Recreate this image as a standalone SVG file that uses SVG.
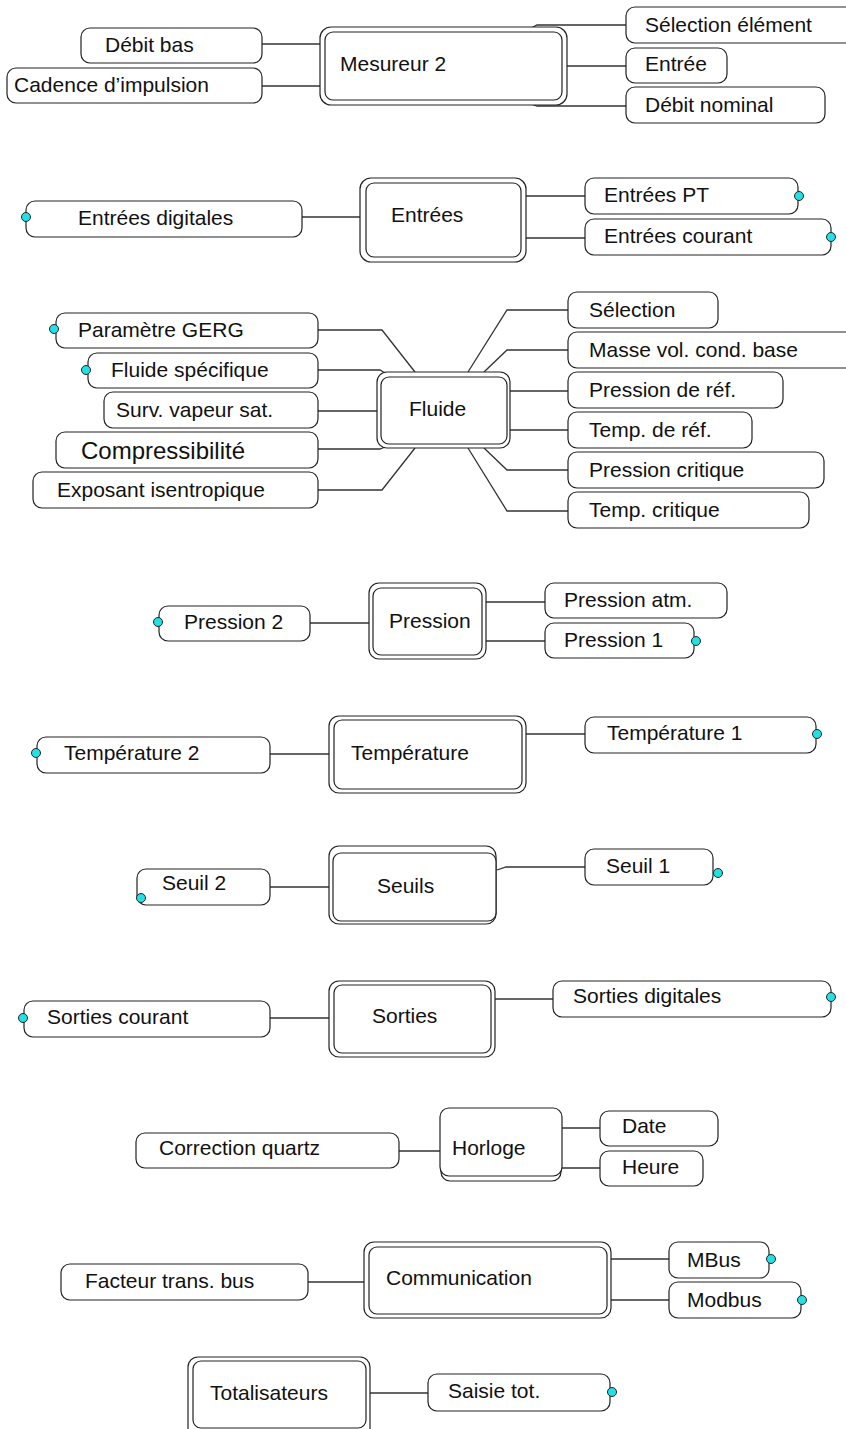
<svg xmlns="http://www.w3.org/2000/svg" width="846" height="1429" viewBox="0 0 846 1429">
  <style>
    .box { fill: #fff; stroke: #222; stroke-width: 1.2; }
    .hub { fill: #fff; stroke: #222; stroke-width: 1.2; }
    .c { fill: none; stroke: #333; stroke-width: 1.3; }
    .dot { fill: #22e0e6; stroke: #222; stroke-width: 1; }
    text { font-family: "Liberation Sans", Arial, sans-serif; font-size: 21px; fill: #111; }
    .big { font-size: 24px; }
  </style>
  <rect width="846" height="1429" fill="#fff"/>

  <!-- connectors -->
  <g id="connectors">
    <!-- Mesureur 2 -->
    <line class="c" x1="262" y1="44" x2="320" y2="44"/>
    <line class="c" x1="262" y1="86" x2="320" y2="86"/>
    <path class="c" d="M531,28 L537,25 L626,25"/>
    <line class="c" x1="567" y1="66" x2="626" y2="66"/>
    <path class="c" d="M531,104 L537,106 L626,106"/>
    <!-- Entrées -->
    <line class="c" x1="302" y1="217" x2="360" y2="217"/>
    <line class="c" x1="526" y1="196" x2="585" y2="196"/>
    <line class="c" x1="526" y1="238" x2="585" y2="238"/>
    <!-- Fluide -->
    <path class="c" d="M318,330 L382,330 L415,372"/>
    <path class="c" d="M318,370 L380,370 L385,373"/>
    <line class="c" x1="318" y1="411" x2="377" y2="411"/>
    <path class="c" d="M318,449 L380,449 L385,447"/>
    <path class="c" d="M318,490 L382,490 L415,448"/>
    <path class="c" d="M468,372 L507,310 L568,310"/>
    <path class="c" d="M484,372 L507,350 L568,350"/>
    <line class="c" x1="510" y1="391" x2="568" y2="391"/>
    <line class="c" x1="510" y1="430" x2="568" y2="430"/>
    <path class="c" d="M484,448 L507,470 L568,470"/>
    <path class="c" d="M468,448 L507,511 L568,511"/>
    <!-- Pression -->
    <line class="c" x1="310" y1="623" x2="369" y2="623"/>
    <line class="c" x1="486" y1="602" x2="545" y2="602"/>
    <line class="c" x1="486" y1="641" x2="545" y2="641"/>
    <!-- Température -->
    <line class="c" x1="270" y1="754" x2="329" y2="754"/>
    <line class="c" x1="526" y1="734" x2="585" y2="734"/>
    <!-- Seuils -->
    <line class="c" x1="270" y1="887" x2="329" y2="887"/>
    <path class="c" d="M497,870 L506,867 L585,867"/>
    <!-- Sorties -->
    <line class="c" x1="270" y1="1018" x2="329" y2="1018"/>
    <line class="c" x1="495" y1="999" x2="553" y2="999"/>
    <!-- Horloge -->
    <line class="c" x1="399" y1="1151" x2="440" y2="1151"/>
    <line class="c" x1="562" y1="1128" x2="600" y2="1128"/>
    <line class="c" x1="562" y1="1168" x2="600" y2="1168"/>
    <!-- Communication -->
    <line class="c" x1="308" y1="1282" x2="364" y2="1282"/>
    <line class="c" x1="611" y1="1259" x2="669" y2="1259"/>
    <line class="c" x1="611" y1="1300" x2="669" y2="1300"/>
    <!-- Totalisateurs -->
    <line class="c" x1="370" y1="1393" x2="428" y2="1393"/>
  </g>

  <!-- Mesureur 2 -->
  <g id="mesureur2">
    <rect class="hub" x="320" y="27" width="247" height="78" rx="11"/>
    <rect class="hub" x="325" y="32" width="237" height="68" rx="8"/>
    <text x="340" y="71">Mesureur 2</text>
  </g>
  <g id="debit-bas">
    <rect class="box" x="81" y="28" width="181" height="35" rx="9"/>
    <text x="105" y="52">Débit bas</text>
  </g>
  <g id="cadence">
    <rect class="box" x="7" y="68" width="255" height="35" rx="9"/>
    <text x="14" y="92">Cadence d’impulsion</text>
  </g>
  <g id="selection-element">
    <rect class="box" x="626" y="7" width="230" height="36" rx="9"/>
    <text x="645" y="32">Sélection élément</text>
  </g>
  <g id="entree">
    <rect class="box" x="626" y="48" width="101" height="35" rx="9"/>
    <text x="645" y="71">Entrée</text>
  </g>
  <g id="debit-nominal">
    <rect class="box" x="626" y="87" width="199" height="36" rx="9"/>
    <text x="645" y="112">Débit nominal</text>
  </g>

  <!-- Entrées -->
  <g id="entrees">
    <rect class="hub" x="360" y="178" width="166" height="84" rx="11"/>
    <rect class="hub" x="366" y="183" width="155" height="74" rx="8"/>
    <text x="391" y="222">Entrées</text>
  </g>
  <g id="entrees-digitales">
    <rect class="box" x="26" y="201" width="276" height="36" rx="9"/>
    <circle class="dot" cx="26" cy="217" r="4.5"/>
    <text x="78" y="225">Entrées digitales</text>
  </g>
  <g id="entrees-pt">
    <rect class="box" x="585" y="178" width="213" height="36" rx="9"/>
    <circle class="dot" cx="799" cy="196" r="4.5"/>
    <text x="604" y="202">Entrées PT</text>
  </g>
  <g id="entrees-courant">
    <rect class="box" x="585" y="219" width="246" height="36" rx="9"/>
    <circle class="dot" cx="831" cy="237" r="4.5"/>
    <text x="604" y="243">Entrées courant</text>
  </g>

  <!-- Fluide -->
  <g id="fluide">
    <rect class="hub" x="377" y="372" width="133" height="76" rx="10"/>
    <rect class="hub" x="381" y="377" width="126" height="67" rx="8"/>
    <text x="409" y="416">Fluide</text>
  </g>
  <g id="parametre-gerg">
    <rect class="box" x="56" y="313" width="262" height="35" rx="9"/>
    <circle class="dot" cx="54" cy="329" r="4.5"/>
    <text x="78" y="337">Paramètre GERG</text>
  </g>
  <g id="fluide-specifique">
    <rect class="box" x="88" y="353" width="230" height="35" rx="9"/>
    <circle class="dot" cx="86" cy="370" r="4.5"/>
    <text x="111" y="377">Fluide spécifique</text>
  </g>
  <g id="surv-vapeur">
    <rect class="box" x="104" y="392" width="214" height="36" rx="9"/>
    <text x="116" y="417">Surv. vapeur sat.</text>
  </g>
  <g id="compressibilite">
    <rect class="box" x="56" y="432" width="262" height="36" rx="9"/>
    <text class="big" x="81" y="459">Compressibilité</text>
  </g>
  <g id="exposant">
    <rect class="box" x="33" y="472" width="285" height="36" rx="9"/>
    <text x="57" y="497">Exposant isentropique</text>
  </g>
  <g id="selection">
    <rect class="box" x="568" y="292" width="150" height="36" rx="9"/>
    <text x="589" y="317">Sélection</text>
  </g>
  <g id="masse-vol">
    <rect class="box" x="568" y="332" width="290" height="36" rx="9"/>
    <text x="589" y="357">Masse vol. cond. base</text>
  </g>
  <g id="pression-ref">
    <rect class="box" x="568" y="372" width="215" height="36" rx="9"/>
    <text x="589" y="397">Pression de réf.</text>
  </g>
  <g id="temp-ref">
    <rect class="box" x="568" y="412" width="184" height="36" rx="9"/>
    <text x="589" y="437">Temp. de réf.</text>
  </g>
  <g id="pression-critique">
    <rect class="box" x="568" y="452" width="256" height="36" rx="9"/>
    <text x="589" y="477">Pression critique</text>
  </g>
  <g id="temp-critique">
    <rect class="box" x="568" y="492" width="241" height="36" rx="9"/>
    <text x="589" y="517">Temp. critique</text>
  </g>

  <!-- Pression -->
  <g id="pression">
    <rect class="hub" x="369" y="583" width="117" height="76" rx="10"/>
    <rect class="hub" x="373" y="588" width="109" height="67" rx="8"/>
    <text x="389" y="628">Pression</text>
  </g>
  <g id="pression-2">
    <rect class="box" x="159" y="606" width="151" height="35" rx="9"/>
    <circle class="dot" cx="158" cy="622" r="4.5"/>
    <text x="184" y="629">Pression 2</text>
  </g>
  <g id="pression-atm">
    <rect class="box" x="545" y="583" width="182" height="35" rx="9"/>
    <text x="564" y="607">Pression atm.</text>
  </g>
  <g id="pression-1">
    <rect class="box" x="545" y="623" width="149" height="35" rx="9"/>
    <circle class="dot" cx="696" cy="641" r="4.5"/>
    <text x="564" y="647">Pression 1</text>
  </g>

  <!-- Température -->
  <g id="temperature">
    <rect class="hub" x="329" y="716" width="197" height="77" rx="10"/>
    <rect class="hub" x="334" y="720" width="188" height="69" rx="8"/>
    <text x="351" y="760">Température</text>
  </g>
  <g id="temperature-2">
    <rect class="box" x="37" y="737" width="233" height="36" rx="9"/>
    <circle class="dot" cx="36" cy="753" r="4.5"/>
    <text x="64" y="760">Température 2</text>
  </g>
  <g id="temperature-1">
    <rect class="box" x="585" y="717" width="231" height="36" rx="9"/>
    <circle class="dot" cx="817" cy="734" r="4.5"/>
    <text x="607" y="740">Température 1</text>
  </g>

  <!-- Seuils -->
  <g id="seuils">
    <rect class="hub" x="329" y="846" width="167" height="78" rx="10"/>
    <rect class="hub" x="333" y="853" width="163" height="68" rx="8"/>
    <text x="377" y="893">Seuils</text>
  </g>
  <g id="seuil-2">
    <rect class="box" x="137" y="869" width="133" height="36" rx="9"/>
    <circle class="dot" cx="141" cy="898" r="4.5"/>
    <text x="162" y="890">Seuil 2</text>
  </g>
  <g id="seuil-1">
    <rect class="box" x="585" y="849" width="128" height="36" rx="9"/>
    <circle class="dot" cx="718" cy="873" r="4.5"/>
    <text x="606" y="873">Seuil 1</text>
  </g>

  <!-- Sorties -->
  <g id="sorties">
    <rect class="hub" x="329" y="981" width="166" height="76" rx="10"/>
    <rect class="hub" x="334" y="985" width="157" height="68" rx="8"/>
    <text x="372" y="1023">Sorties</text>
  </g>
  <g id="sorties-courant">
    <rect class="box" x="24" y="1001" width="246" height="36" rx="9"/>
    <circle class="dot" cx="23" cy="1018" r="4.5"/>
    <text x="47" y="1024">Sorties courant</text>
  </g>
  <g id="sorties-digitales">
    <rect class="box" x="553" y="981" width="278" height="36" rx="9"/>
    <circle class="dot" cx="831" cy="997" r="4.5"/>
    <text x="573" y="1003">Sorties digitales</text>
  </g>

  <!-- Horloge -->
  <g id="horloge">
    <rect class="hub" x="441" y="1113" width="120" height="68" rx="9"/>
    <rect class="hub" x="440" y="1108" width="122" height="68" rx="9"/>
    <text x="452" y="1155">Horloge</text>
  </g>
  <g id="correction-quartz">
    <rect class="box" x="136" y="1133" width="263" height="35" rx="9"/>
    <text x="159" y="1155">Correction quartz</text>
  </g>
  <g id="date">
    <rect class="box" x="600" y="1111" width="118" height="35" rx="9"/>
    <text x="622" y="1133">Date</text>
  </g>
  <g id="heure">
    <rect class="box" x="600" y="1151" width="103" height="35" rx="9"/>
    <text x="622" y="1174">Heure</text>
  </g>

  <!-- Communication -->
  <g id="communication">
    <rect class="hub" x="364" y="1242" width="247" height="76" rx="10"/>
    <rect class="hub" x="369" y="1247" width="238" height="67" rx="8"/>
    <text x="386" y="1285">Communication</text>
  </g>
  <g id="facteur-bus">
    <rect class="box" x="61" y="1264" width="247" height="36" rx="9"/>
    <text x="85" y="1288">Facteur trans. bus</text>
  </g>
  <g id="mbus">
    <rect class="box" x="669" y="1242" width="100" height="36" rx="9"/>
    <circle class="dot" cx="771" cy="1259" r="4.5"/>
    <text x="687" y="1267">MBus</text>
  </g>
  <g id="modbus">
    <rect class="box" x="669" y="1282" width="132" height="36" rx="9"/>
    <circle class="dot" cx="802" cy="1300" r="4.5"/>
    <text x="687" y="1307">Modbus</text>
  </g>

  <!-- Totalisateurs -->
  <g id="totalisateurs">
    <rect class="hub" x="188" y="1357" width="182" height="90" rx="10"/>
    <rect class="hub" x="193" y="1361" width="173" height="67" rx="8"/>
    <text x="210" y="1400">Totalisateurs</text>
  </g>
  <g id="saisie-tot">
    <rect class="box" x="428" y="1374" width="182" height="37" rx="9"/>
    <circle class="dot" cx="612" cy="1392" r="4.5"/>
    <text x="448" y="1398">Saisie tot.</text>
  </g>
</svg>
